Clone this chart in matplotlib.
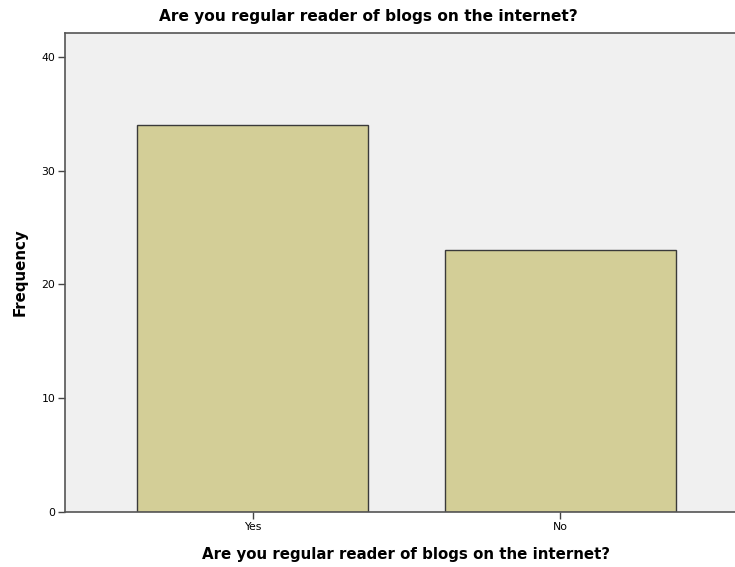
import matplotlib
matplotlib.use("Agg")
import matplotlib.pyplot as plt

categories = ["Yes", "No"]
frequencies = [34, 23]
yticks = [0, 10, 20, 30, 40]
title = "Are you regular reader of blogs on the internet?"

plt.rcParams['font.family'] = ['DejaVu Sans']

fig = plt.figure(figsize=(7.35, 5.67), dpi=100)
ax = fig.add_axes([65/735, 55/567, (748-65)/735, (512-33)/567])
ax.set_facecolor('#F0F0F0')
x = list(range(len(categories)))
ax.bar(x, frequencies, width=0.75, color='#D3CE97', edgecolor='#3a3a3a', linewidth=1.0, zorder=2)
ax.set_xlim(-0.609, 1.609)
ax.set_ylim(0, 42.1)
ax.set_xticks(x)
ax.set_xticklabels(categories, fontsize=7.8)
ax.set_yticks(yticks)
ax.set_yticklabels([str(t) for t in yticks], fontsize=7.8)
ax.tick_params(axis='both', length=5, width=1, color='#444444', pad=2)
for s in ['left', 'bottom', 'top']:
    ax.spines[s].set_color('#555555')
    ax.spines[s].set_linewidth(1.2)
ax.spines['right'].set_visible(False)
ax.set_ylabel("Frequency", fontsize=10.8, fontweight='bold', labelpad=10)
ax.set_xlabel(title, fontsize=10.8, fontweight='bold', labelpad=11)
fig.text(368/735, 1 - 17/567, title, ha='center', va='center', fontsize=11.1, fontweight='bold')
fig.savefig("out.png", dpi=100)
